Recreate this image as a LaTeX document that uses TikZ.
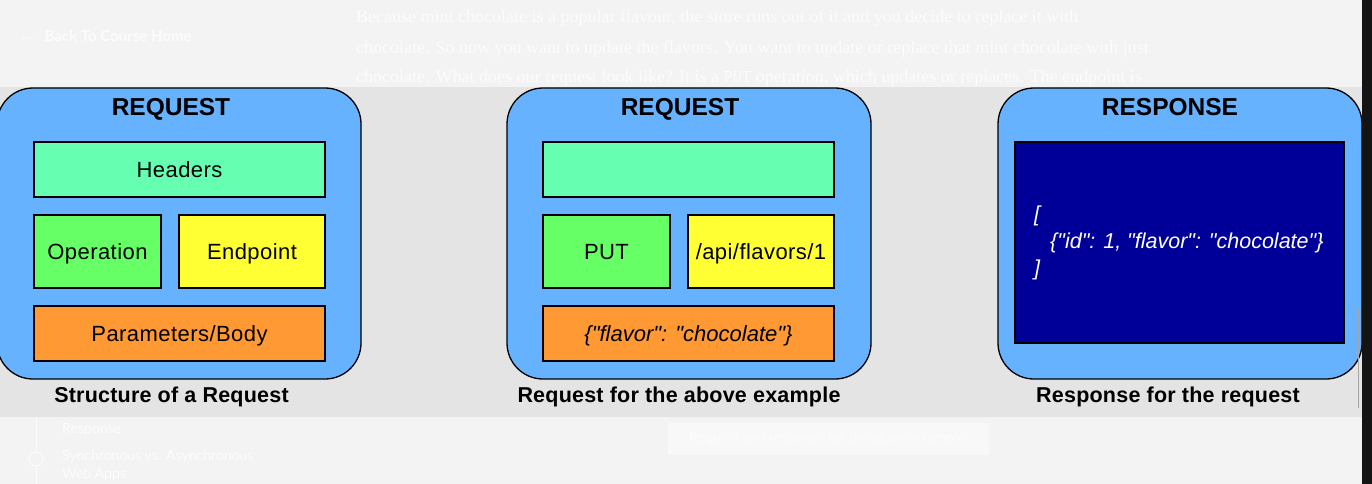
\documentclass[tikz,border=0pt]{standalone}
\usepackage{fontspec}
\setmainfont{Liberation Sans}[Ligatures=TeXOff]
\newfontfamily\sitefont{Lato}
\newfontfamily\prosefont{Liberation Serif}

\definecolor{page_bg}{HTML}{F3F3F3}
\definecolor{band_bg}{HTML}{E4E4E4}
\definecolor{ghost}{HTML}{FCFCFC}
\definecolor{panel_blue}{HTML}{66B2FF}
\definecolor{head_teal}{HTML}{66FFB2}
\definecolor{op_green}{HTML}{66FF66}
\definecolor{end_yellow}{HTML}{FFFF33}
\definecolor{body_orange}{HTML}{FF9933}
\definecolor{resp_navy}{HTML}{000099}

\begin{document}
\begin{tikzpicture}[
  x=1pt, y=-1pt,
  panel/.style={draw=black, line width=1.3pt, fill=panel_blue, rounded corners=36pt, minimum width=364pt, minimum height=291pt, inner sep=0pt},
  part_box/.style={draw=black, line width=1.1pt, inner sep=0pt, text height=15.8pt, text depth=0pt, font=\fontsize{22pt}{26pt}\selectfont\addfontfeature{LetterSpace=2}},
  wide_box/.style={part_box, minimum width=291pt, minimum height=55pt},
  op_box/.style={part_box, fill=op_green, minimum width=127pt, minimum height=73pt},
  end_box/.style={part_box, fill=end_yellow, minimum width=146pt, minimum height=73pt},
  panel_title/.style={inner sep=0pt, text height=17.6pt, text depth=0pt, font=\fontsize{24.5pt}{28pt}\selectfont\bfseries},
  panel_caption/.style={inner sep=0pt, text height=15.5pt, text depth=0pt, font=\fontsize{21.5pt}{25pt}\selectfont\bfseries\addfontfeature{LetterSpace=1}},
  ghost_text/.style={inner sep=0pt, anchor=west, text=ghost},
]
\useasboundingbox (0,0) rectangle (1372,484);
\fill[page_bg] (0,0) rectangle (1372,484);

% faint page behind the figure
\draw (20,36) node (back) [ghost_text, font=\sitefont\fontsize{15pt}{18pt}\selectfont] {$\leftarrow$\hspace{10pt}\textbf{Back To Course Home}};
\draw (356,18) node (line1) [ghost_text, font=\prosefont\fontsize{18pt}{21pt}\selectfont] {Because mint chocolate is a popular flavour, the store runs out of it and you decide to replace it with};
\draw (356,49) node (line2) [ghost_text, font=\prosefont\fontsize{18pt}{21pt}\selectfont] {chocolate. So now you want to update the flavors. You want to update or replace that mint chocolate with just};
\draw (356,78) node (line3) [ghost_text, font=\prosefont\fontsize{18pt}{21pt}\selectfont] {chocolate. What does our request look like? It is a \texttt{PUT} operation, which updates or replaces. The endpoint is};
\draw (62,430) node (side1) [ghost_text, font=\sitefont\fontsize{14pt}{17pt}\selectfont] {Response};
\draw (62,457) node (side2) [ghost_text, font=\sitefont\fontsize{14pt}{17pt}\selectfont] {Synchronous vs. Asynchronous};
\draw (62,475) node (side3) [ghost_text, font=\sitefont\fontsize{14pt}{17pt}\selectfont] {Web Apps};
\draw[ghost, line width=1pt] (36,417) -- (36,452) (36,466) -- (36,484);
\draw[ghost, line width=1pt] (36,459) circle (7);
\fill[page_bg!60!white] (668,423) rectangle (989,455);
\draw (689,439) node (figcap) [ghost_text, font=\sitefont\fontsize{14pt}{17pt}\selectfont] {Request and response for the above example};

\fill[band_bg] (0,87) rectangle (1362,417);

% structure of a request
\draw (179,233.5) node (req_panel) [panel] {};
\draw (171,107) node (req_title) [panel_title] {REQUEST};
\draw (179.5,169.5) node (req_headers) [wide_box, fill=head_teal] {Headers};
\draw (97.5,251.5) node (req_op) [op_box] {Operation};
\draw (252,251.5) node (req_end) [end_box] {Endpoint};
\draw (179.5,333.5) node (req_body) [wide_box, fill=body_orange] {Parameters/Body};
\draw (171.5,395) node (req_caption) [panel_caption] {Structure of a Request};

% request for the example
\draw (689,233.5) node (ex_panel) [panel] {};
\draw (680,107) node (ex_title) [panel_title] {REQUEST};
\draw (688.5,169.5) node (ex_headers) [wide_box, fill=head_teal] {};
\draw (606.5,251.5) node (ex_op) [op_box] {PUT};
\draw (761,251.5) node (ex_end) [end_box] {/api/flavors/1};
\draw (688.5,333.5) node (ex_body) [wide_box, fill=body_orange] {\addfontfeature{LetterSpace=0}\itshape\{"flavor": "chocolate"\}};
\draw (679,395) node (ex_caption) [panel_caption] {Request for the above example};

% response
\draw (1180,233.5) node (resp_panel) [panel] {};
\draw (1170,107) node (resp_title) [panel_title] {RESPONSE};
\draw (1179.5,242.5) node (resp_body) [part_box, fill=resp_navy, minimum width=329pt, minimum height=201pt] {};
\draw (1034,243) node (resp_json) [inner sep=0pt, anchor=west, align=left, text=white, font=\fontsize{21.5pt}{27pt}\selectfont\itshape] {[\\\hspace{16pt}\{"id": 1, "flavor": "chocolate"\}\\]};
\draw (1168,395) node (resp_caption) [panel_caption] {Response for the request};

% window edge
\draw[gray!70, line width=1pt] (1358,308) -- (1358,408);
\fill[black!92] (1362,0) rectangle (1372,484);
\end{tikzpicture}
\end{document}
